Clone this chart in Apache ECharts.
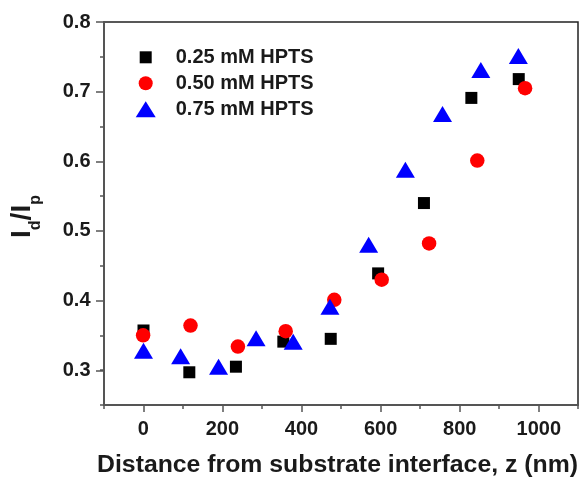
<!DOCTYPE html>
<html><head><meta charset="utf-8">
<script src="https://cdn.jsdelivr.net/npm/echarts@6/dist/echarts.min.js"></script>
<style>html,body{margin:0;padding:0;background:#fff}#c{width:583px;height:477px}</style>
</head><body><div id="c"></div>
<script>
// ---- data ----
const seriesNames = ['0.25 mM HPTS', '0.50 mM HPTS', '0.75 mM HPTS'];
const x025 = [0, 116, 234, 354, 474, 594, 710, 830, 950];
const y025 = [0.357, 0.297, 0.305, 0.341, 0.345, 0.439, 0.540, 0.691, 0.718];
const x050 = [-1, 119, 239, 360, 483, 603, 723, 845, 966];
const y050 = [0.350, 0.364, 0.334, 0.356, 0.401, 0.430, 0.482, 0.601, 0.705];
const x075 = [0, 94, 190, 285, 379, 472, 570, 663, 757, 854, 949];
const y075 = [0.328, 0.320, 0.305, 0.346, 0.341, 0.391, 0.480, 0.588, 0.668, 0.731, 0.751];
const xTickLabels = [0, 200, 400, 600, 800, 1000];
const yTickLabels = [0.3, 0.4, 0.5, 0.6, 0.7, 0.8];
const xTitle = 'Distance from substrate interface, z (nm)';

// ---- chart ----
const FONT = "'Liberation Sans', Arial, sans-serif";
const zip = (xs, ys) => xs.map((x, i) => [x, ys[i]]);
const chart = echarts.init(document.getElementById('c'), null, {renderer: 'canvas'});
const axisGray = '#555';
const textCol = '#1a1a1a';
const legendBase = (name, top, left, w, h, pad) => ({
  data: [name], top: top, left: left, orient: 'vertical', padding: 0,
  itemWidth: w, itemHeight: h, selectedMode: false,
  itemStyle: {opacity: 1},
  textStyle: {fontSize: 20, fontWeight: 'bold', fontFamily: FONT, color: textCol, padding: [0, 0, 0, pad]}
});
const gridBase = {containLabel: false, outerBoundsMode: 'none'};
chart.setOption({
  animation: false,
  backgroundColor: '#fff',
  grid: [
    Object.assign({left: 104, right: 5, top: 22, bottom: 72, show: true, borderColor: '#222', borderWidth: 1.5, backgroundColor: 'transparent'}, gridBase),
    Object.assign({left: 143.3, right: 44.2, top: 22, bottom: 72}, gridBase),
    Object.assign({left: 104, right: 5, top: 22, bottom: 106.7}, gridBase)
  ],
  legend: [
    legendBase(seriesNames[0], 47.3, 139.7, 12, 12, 19),
    legendBase(seriesNames[1], 73.3, 138.7, 14, 14, 18),
    legendBase(seriesNames[2], 99.3, 135.7, 20, 16, 15)
  ],
  xAxis: [
    {type: 'value', gridIndex: 0, min: -100, max: 1100, interval: 100,
     axisLine: {show: true, onZero: false, lineStyle: {color: axisGray, width: 2}},
     axisTick: {show: true, inside: false, length: 4, lineStyle: {color: axisGray, width: 1.5}},
     axisLabel: {show: false}, splitLine: {show: false},
     name: xTitle, nameLocation: 'middle', nameGap: 48,
     nameTextStyle: {fontSize: 24.8, fontWeight: 'bold', fontFamily: FONT, color: textCol, padding: [0, 7, 0, 0]}},
    {type: 'value', gridIndex: 1, min: xTickLabels[0], max: xTickLabels[xTickLabels.length - 1], interval: 200,
     axisLine: {show: false, onZero: false},
     axisTick: {show: true, inside: false, length: 7, lineStyle: {color: axisGray, width: 1.5}},
     axisLabel: {show: true, margin: 14, fontSize: 20, fontWeight: 'bold', fontFamily: FONT, color: textCol,
       formatter: v => String(v)},
     splitLine: {show: false}},
    {type: 'value', gridIndex: 2, show: false, min: 0, max: 1, axisLine: {onZero: false}}
  ],
  yAxis: [
    {type: 'value', gridIndex: 0, min: 0.25, max: 0.8, interval: 0.05,
     axisLine: {show: true, onZero: false, lineStyle: {color: axisGray, width: 2}},
     axisTick: {show: true, inside: false, length: 4, lineStyle: {color: axisGray, width: 1.5}},
     axisLabel: {show: false}, splitLine: {show: false},
     name: '{a|I}{s|d}{a|/I}{s|p}', nameLocation: 'middle', nameRotate: 90, nameGap: 60,
     nameTextStyle: {color: textCol, padding: [0, 6, 0, 0],
       rich: {
         a: {fontSize: 28, fontWeight: 'bold', fontFamily: FONT, color: textCol, verticalAlign: 'top', lineHeight: 28},
         s: {fontSize: 16, fontWeight: 'bold', fontFamily: FONT, color: textCol, verticalAlign: 'top', padding: [20, 0, 0, 0]}
       }}},
    {type: 'value', gridIndex: 1, show: false, min: 0, max: 1, axisLine: {onZero: false}},
    {type: 'value', gridIndex: 2, min: yTickLabels[0], max: yTickLabels[yTickLabels.length - 1], interval: 0.1,
     axisLine: {show: false, onZero: false},
     axisTick: {show: true, inside: false, length: 8, lineStyle: {color: axisGray, width: 1.5}},
     axisLabel: {show: true, margin: 13.5, fontSize: 20, fontWeight: 'bold', fontFamily: FONT, color: textCol,
       formatter: v => v.toFixed(1)},
     splitLine: {show: false}}
  ],
  series: [
    {name: seriesNames[0], type: 'scatter', xAxisIndex: 0, yAxisIndex: 0, symbol: 'rect', symbolSize: 12,
     itemStyle: {color: '#000000', opacity: 1}, data: zip(x025, y025)},
    {name: seriesNames[1], type: 'scatter', xAxisIndex: 0, yAxisIndex: 0, symbol: 'circle', symbolSize: 14.5,
     itemStyle: {color: '#ff0000', opacity: 1}, data: zip(x050, y050)},
    {name: seriesNames[2], type: 'scatter', xAxisIndex: 0, yAxisIndex: 0, symbol: 'triangle', symbolSize: [19, 16],
     itemStyle: {color: '#0000ff', opacity: 1}, data: zip(x075, y075)}
  ]
});
</script>
</body></html>
